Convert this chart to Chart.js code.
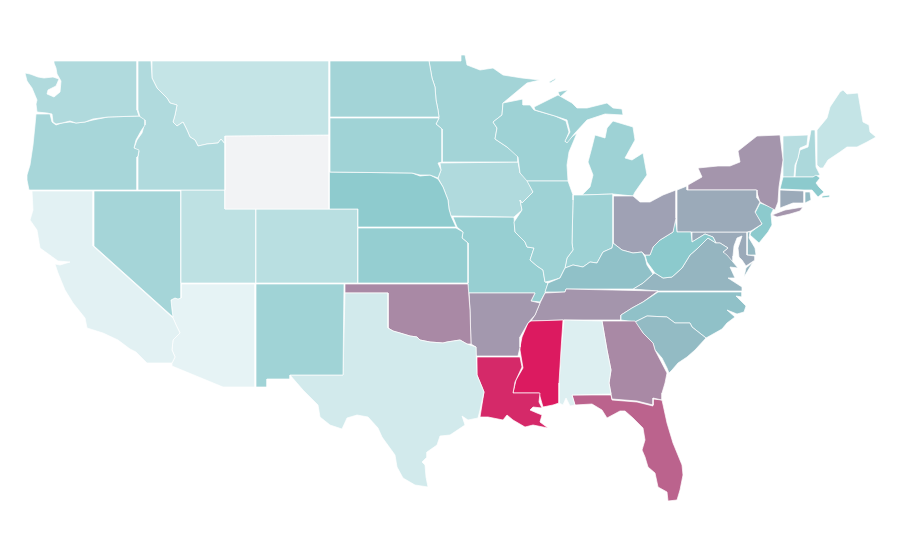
<!DOCTYPE html>
<html>
<head>
<meta charset="utf-8">
<title>US states</title>
<script src="https://cdn.jsdelivr.net/npm/chart.js@4"></script>
<style>
  html, body { margin: 0; padding: 0; background: #fff; }
  #wrap { width: 900px; height: 560px; }
</style>
</head>
<body>
<div id="wrap"><canvas id="map"></canvas></div>
<script>
// state outlines, in map units (x 0-900, y 0-560)
const WA = [[54,61],[137,61],[137,110],[139,116],[108,117],[93,119],[85,122],[76,123],[70,121],[62,123],[56,124],[53,122],[52,114],[47,113],[37,112],[36,104],[37,100],[32,88],[27,81],[25,73],[30,74],[38,77],[44,78],[53,77],[59,79],[56,86],[48,90],[47,94],[54,97],[60,92],[61,81],[57,74],[56,68],[54,63]];
const OR = [[36,114],[50,114],[52,122],[56,125],[62,123],[70,122],[76,123],[85,122],[93,120],[108,117],[139,116],[145,120],[145,125],[141,131],[136,140],[134,148],[139,150],[138,156],[137,157],[137,190],[29,190],[27,180],[27,175],[30,165],[33,145],[35,125]];
const ID = [[138,61],[151,61],[152,78],[157,88],[167,98],[170,103],[177,105],[175,115],[173,122],[177,126],[183,122],[187,130],[190,137],[195,140],[198,146],[207,144],[218,143],[221,139],[225,144],[225,190],[138,190],[138,157],[139,151],[134,148],[137,140],[142,133],[145,122],[140,117],[138,110]];
const MT = [[152,61],[329,61],[329,135],[225,136],[225,144],[221,139],[218,143],[207,144],[198,146],[195,140],[190,137],[187,130],[183,122],[177,126],[173,122],[175,115],[177,105],[170,103],[167,98],[157,88],[152,78]];
const WY = [[225,136],[329,135],[329,209],[225,209]];
const ND = [[330,61],[429,61],[432,78],[435,87],[436,100],[438,110],[439,117],[330,117]];
const SD = [[330,118],[439,118],[436,124],[442,129],[442,162],[438,163],[441,170],[438,178],[430,175],[420,175],[412,173],[330,172]];
const NE = [[329,172],[412,173],[420,176],[430,175],[438,179],[443,187],[448,200],[449,209],[451,216],[456,227],[358,227],[358,209],[329,209]];
const KS = [[358,228],[456,228],[463,232],[462,238],[468,243],[468,283],[358,283]];
const CO = [[256,209],[358,209],[358,283],[256,283]];
const UT = [[181,190],[225,190],[225,209],[256,209],[256,283],[181,283]];
const NV = [[94,191],[181,191],[181,298],[178,299],[175,298],[171,300],[172,310],[173,317],[94,246]];
const CA = [[32,191],[93,191],[93,246],[173,318],[177,327],[180,333],[175,338],[173,340],[172,350],[175,357],[172,363],[160,363],[147,363],[136,352],[130,349],[118,340],[103,333],[87,328],[85,318],[73,303],[65,290],[58,273],[55,264],[60,265],[70,262],[58,261],[40,248],[37,230],[30,220],[33,210]];
const AZ = [[181,298],[181,284],[255,284],[255,387],[223,387],[172,366],[172,363],[175,357],[172,350],[173,340],[175,338],[180,333],[177,327],[173,318],[172,310],[171,300],[175,298],[178,299]];
const NM = [[256,284],[344,284],[343,375],[290,375],[290,379],[267,379],[267,387],[256,387]];
const TX = [[345,293],[388,293],[388,328],[393,331],[400,333],[410,336],[417,337],[420,340],[430,342],[443,343],[447,342],[460,340],[467,344],[476,347],[477,375],[482,387],[484,392],[480,410],[478,418],[468,420],[462,416],[465,425],[450,435],[440,436],[437,445],[427,452],[427,457],[422,462],[425,465],[426,477],[428,487],[415,485],[403,478],[397,467],[395,455],[382,437],[378,428],[368,417],[357,415],[347,418],[342,429],[330,425],[320,417],[318,405],[303,390],[290,375],[343,375]];
const OK = [[345,284],[468,284],[470,310],[471,344],[467,344],[460,340],[447,342],[443,343],[430,342],[420,340],[417,337],[410,336],[400,333],[393,331],[388,328],[388,293],[345,293]];
const AR = [[469,293],[535,293],[531,301],[540,303],[535,315],[528,323],[520,337],[520,347],[518,356],[476,356],[476,347],[471,344],[470,310]];
const LA = [[477,357],[520,357],[522,367],[515,382],[513,393],[540,393],[539,402],[542,408],[533,407],[530,410],[537,413],[542,415],[540,422],[548,428],[533,425],[525,427],[513,420],[507,415],[503,420],[488,417],[480,417],[484,392],[482,387],[477,375]];
const MS = [[531,321],[563,320],[561,350],[559,383],[559,403],[553,405],[543,407],[539,393],[513,393],[516,380],[523,368],[520,350],[520,347],[522,337],[528,323]];
const AL = [[564,320],[602,321],[607,350],[611,370],[609,383],[611,394],[572,395],[575,405],[570,406],[566,398],[563,405],[559,403],[559,383],[561,350]];
const GA = [[602,321],[635,321],[643,333],[653,343],[655,350],[667,373],[665,383],[662,393],[662,400],[653,398],[653,405],[637,401],[612,399],[609,383],[611,370],[607,350]];
const FL = [[572,395],[611,395],[612,400],[637,402],[653,406],[653,399],[662,400],[667,423],[673,443],[682,465],[683,475],[680,490],[677,500],[668,501],[667,492],[658,487],[655,473],[648,467],[645,457],[642,450],[645,440],[643,428],[633,418],[625,411],[620,411],[607,418],[602,410],[592,404],[575,405]];
const SC = [[635,322],[647,316],[667,317],[675,323],[690,323],[692,327],[706,338],[695,350],[687,357],[678,363],[672,370],[669,373],[667,368],[662,358],[655,350],[653,343],[643,333]];
const NC = [[658,292],[742,292],[742,297],[736,296],[741,301],[746,306],[744,312],[737,314],[727,310],[735,317],[727,323],[722,329],[706,338],[692,327],[690,323],[675,323],[667,317],[647,316],[635,322],[621,320],[621,315],[632,308],[643,302]];
const TN = [[545,293],[565,292],[566,289],[658,291],[643,302],[632,308],[621,315],[621,320],[564,320],[531,321],[535,315],[540,303]];
const KY = [[545,292],[548,283],[560,278],[565,268],[573,265],[583,267],[590,262],[597,263],[603,252],[612,248],[613,243],[622,250],[633,253],[642,252],[645,257],[647,265],[653,274],[643,283],[633,289],[566,289],[565,292]];
const IL = [[527,181],[568,181],[573,195],[573,200],[572,243],[573,250],[567,258],[565,268],[560,278],[550,281],[545,282],[543,270],[537,266],[530,260],[534,248],[527,247],[525,242],[515,232],[514,222],[522,210],[520,200],[522,203],[533,192]];
const IN = [[573,195],[582,195],[613,194],[613,243],[612,248],[603,252],[597,263],[590,262],[583,267],[573,265],[565,268],[567,258],[573,250],[572,243],[573,200]];
const OH = [[613,196],[633,196],[640,202],[650,202],[663,195],[676,190],[676,218],[673,232],[660,240],[653,247],[650,255],[645,255],[642,252],[633,253],[622,250],[613,243]];
const WV = [[675,217],[677,232],[691,232],[692,242],[705,234],[713,237],[716,243],[708,238],[698,248],[690,255],[682,268],[672,277],[663,278],[655,273],[647,262],[645,255],[650,255],[653,247],[660,240],[673,232]];
const PA = [[677,190],[687,186],[687,190],[757,190],[757,198],[760,202],[755,212],[762,224],[751,231],[747,232],[677,232]];
const NY = [[688,190],[688,185],[702,177],[698,168],[718,166],[730,166],[740,162],[738,151],[757,136],[780,135],[783,160],[779,187],[778,202],[775,210],[760,202],[757,193],[756,190]];
const NY_ISLAND = [[772,215],[785,210],[803,207],[800,211],[790,214],[777,217]];
const NJ = [[760,203],[774,208],[771,214],[772,225],[768,232],[759,243],[750,235],[751,232],[762,224],[755,213]];
const CT = [[780,190],[804,191],[804,203],[793,203],[780,208]];
const RI = [[805,192],[810,192],[811,200],[805,203]];
const MA = [[783,177],[813,177],[816,175],[820,178],[816,183],[819,187],[824,192],[818,197],[812,190],[804,190],[780,189]];
const MA_CAPE = [[822,196],[830,195],[830,197],[822,198]];
const VT = [[783,136],[808,135],[807,145],[800,148],[798,158],[795,165],[794,177],[783,177],[783,163]];
const NH = [[811,130],[815,130],[816,167],[820,175],[813,177],[795,177],[796,165],[800,150],[808,147]];
const ME = [[817,130],[827,118],[830,107],[840,92],[843,90],[847,94],[858,93],[863,122],[869,125],[870,132],[876,137],[867,142],[857,147],[847,147],[840,152],[828,160],[823,168],[820,168],[817,165]];
const MI = [[613,194],[582,195],[590,187],[593,175],[588,162],[592,147],[595,135],[605,138],[607,128],[613,121],[633,127],[635,140],[625,158],[632,160],[643,153],[647,175],[635,192],[633,196]];
const MI_UPPER = [[534,107],[558,95],[572,103],[577,108],[587,108],[607,103],[613,108],[622,109],[623,115],[605,114],[587,120],[575,133],[567,143],[565,141],[570,132],[567,120],[555,116],[535,110]];
const MI_KEWEENAW = [[558,92],[562,91],[568,90],[560,97]];
const MI_ROYALE = [[549,82],[556,78],[555,80],[550,83]];
const WI = [[503,103],[523,99],[523,105],[530,105],[534,110],[555,116],[566,121],[569,132],[565,142],[577,133],[569,152],[567,165],[568,181],[527,181],[520,173],[518,157],[507,147],[495,139],[497,128],[493,122],[502,115]];
const MN = [[429,61],[461,61],[461,55],[465,55],[467,65],[480,70],[493,68],[503,75],[522,78],[540,80],[527,83],[503,103],[502,115],[493,122],[497,128],[495,139],[507,147],[518,155],[518,162],[442,162],[442,129],[436,124],[439,118],[438,110],[436,100],[435,87],[432,78]];
const IA = [[440,163],[518,162],[520,173],[527,180],[533,192],[522,203],[520,200],[522,210],[514,217],[453,216],[451,216],[449,209],[448,200],[443,187],[438,178],[441,170]];
const MO = [[453,217],[514,217],[515,232],[525,242],[527,247],[534,248],[530,260],[537,266],[543,270],[545,282],[548,283],[545,293],[540,302],[531,301],[535,293],[468,293],[468,243],[462,238],[463,232],[457,227]];
const VA = [[716,243],[708,238],[698,248],[690,255],[682,268],[672,277],[663,278],[655,273],[653,274],[643,283],[633,289],[658,291],[742,291],[742,287],[728,278],[735,278],[730,267],[738,268],[727,255],[723,252],[728,248],[720,243]];
const VA_SHORE = [[744,277],[746,268],[753,262],[750,267]];
const MD = [[692,232],[747,232],[747,255],[755,256],[755,260],[746,266],[742,260],[739,257],[738,248],[742,236],[737,238],[734,246],[733,256],[733,262],[725,258],[723,252],[728,248],[720,243],[716,243],[713,237],[705,234],[692,242]];
const DE = [[747,232],[750,232],[749,238],[755,248],[756,255],[747,255]];

const stateNames = ['WA','OR','ID','MT','WY','ND','SD','NE','KS','CO','UT','NV','CA','AZ','NM','TX','OK','AR','LA','MS','AL','GA','FL','SC','NC','TN','KY','IL','IN','OH','WV','PA','NY','NY','NJ','CT','RI','MA','MA','VT','NH','ME','MI','MI','MI','MI','WI','MN','IA','MO','VA','VA','MD','DE'];
const stateOutlines = [WA,OR,ID,MT,WY,ND,SD,NE,KS,CO,UT,NV,CA,AZ,NM,TX,OK,AR,LA,MS,AL,GA,FL,SC,NC,TN,KY,IL,IN,OH,WV,PA,NY,NY_ISLAND,NJ,CT,RI,MA,MA_CAPE,VT,NH,ME,MI,MI_UPPER,MI_KEWEENAW,MI_ROYALE,WI,MN,IA,MO,VA,VA_SHORE,MD,DE];
// no legend in the picture, so these are estimated from each state's shade (0-100)
const stateValues = {WA:24,OR:28,ID:24,MT:15,WY:null,ND:30,SD:31,NE:39,KS:36,CO:20,UT:18,NV:29,CA:2,AZ:0,NM:31,TX:9,OK:62,AR:57,LA:95,MS:100,AL:4,GA:62,FL:75,SC:45,NC:43,TN:58,KY:43,IL:32,IN:32,OH:54,WV:40,PA:51,NY:58,NJ:40,CT:51,RI:45,MA:40,VT:21,NH:26,ME:15,MI:32,WI:32,MN:30,IA:24,MO:35,VA:47,MD:51,DE:46};

function mix(a, b, t) {
    return a.map(function(c, i) { return Math.round(c + (b[i] - c) * t); });
}

function colorFor(value) {
    if (value === null) {
        return '#f2f3f5';
    }
    const low = [230, 243, 245], mid = [140, 202, 205], high = [220, 26, 96];
    const rgb = value < 40 ? mix(low, mid, value / 40) : mix(mid, high, (value - 40) / 60);
    return 'rgb(' + rgb.join(',') + ')';
}

const datasets = stateOutlines.map(function(outline, i) {
    const points = outline.concat([outline[0]]).map(function(p) {
        return {x: p[0], y: p[1]};
    });
    return {
        label: stateNames[i],
        data: points,
        showLine: true,
        fill: 'shape',
        backgroundColor: colorFor(stateValues[stateNames[i]]),
        borderColor: '#ffffff',
        borderWidth: 0.7,
        borderJoinStyle: 'round',
        pointRadius: 0,
        pointHoverRadius: 0,
        tension: 0
    };
});

new Chart(document.getElementById('map'), {
    type: 'scatter',
    data: {datasets: datasets},
    options: {
        responsive: true,
        maintainAspectRatio: false,
        animation: false,
        layout: {padding: 0},
        scales: {
            x: {type: 'linear', min: 0, max: 900, display: false},
            y: {type: 'linear', min: 0, max: 560, reverse: true, display: false}
        },
        plugins: {
            legend: {display: false},
            tooltip: {enabled: false}
        }
    }
});
</script>
</body>
</html>
